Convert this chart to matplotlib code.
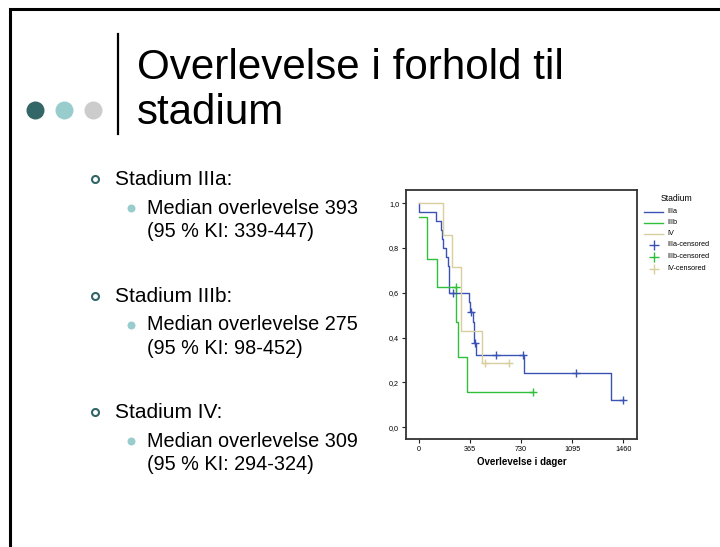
import matplotlib
matplotlib.use('Agg')
import matplotlib.pyplot as plt
from matplotlib.lines import Line2D

W, H = 720, 547
plt.rcParams['font.family'] = ['Liberation Sans', 'DejaVu Sans']

# ---------------- data ----------------
title_lines = ["Overlevelse i forhold til", "stadium"]
groups = ["Stadium IIIa:", "Stadium IIIb:", "Stadium IV:"]
medians = ["Median overlevelse 393", "Median overlevelse 275", "Median overlevelse 309"]
cis = ["(95 % KI: 339-447)", "(95 % KI: 98-452)", "(95 % KI: 294-324)"]

series_names = ["IIIa", "IIIb", "IV"]
legend_title = "Stadium"

iiia_t = [0, 0, 125, 158, 166, 172, 195, 211, 214, 216, 219, 357, 364, 387, 393, 398, 411, 753, 1369]
iiia_s = [1.0, 0.96, 0.92, 0.88, 0.84, 0.80, 0.76, 0.72, 0.68, 0.64, 0.60, 0.557, 0.514, 0.468, 0.421, 0.374, 0.321, 0.241, 0.120]
iiia_cens_t = [242, 370, 403, 551, 742, 1122, 1457]
iiia_cens_s = [0.60, 0.514, 0.374, 0.321, 0.321, 0.241, 0.120]

iiib_t = [0, 57, 134, 270, 284, 342]
iiib_s = [0.9375, 0.75, 0.625, 0.469, 0.3125, 0.156]
iiib_cens_t = [263, 817]
iiib_cens_s = [0.625, 0.156]

iv_t = [0, 171, 240, 299, 303, 449]
iv_s = [1.0, 0.857, 0.714, 0.571, 0.429, 0.286]
iv_cens_t = [475, 646]
iv_cens_s = [0.286, 0.286]

xticks = [0, 365, 730, 1095, 1460]
yticks = [0.0, 0.2, 0.4, 0.6, 0.8, 1.0]
ytick_labels = ["0,0", "0,2", "0,4", "0,6", "0,8", "1,0"]
xlabel = "Overlevelse i dager"

colors = ["#3a52b4", "#2fbf3a", "#d8cf9e"]

# ---------------- helpers ----------------
def fx(x):
    return x / W

def fy(y):
    return 1 - y / H

fig = plt.figure(figsize=(7.2, 5.47), dpi=100)
fig.patch.set_facecolor('white')

# slide border
fig.add_artist(Line2D([fx(10), fx(10), fx(720)], [fy(547), fy(9), fy(9)],
                      color='black', lw=2.2, solid_joinstyle='miter'))

# dots
for xc, c in zip([35, 64, 93], ['#336666', '#99cccc', '#cccccc']):
    fig.add_artist(Line2D([fx(xc)], [fy(110)], marker='o', markersize=18 * 0.72,
                          color=c, markeredgewidth=0))

# vertical bar
fig.add_artist(Line2D([fx(118), fx(118)], [fy(34), fy(134)], color='black', lw=1.6))

# title
fig.text(fx(137), fy(79), title_lines[0], fontsize=30.3, va='baseline', ha='left', color='black')
fig.text(fx(137), fy(124), title_lines[1], fontsize=30.3, va='baseline', ha='left', color='black')

# bullets
for i in range(3):
    off = 116.5 * i
    yb = 185 + off
    fig.add_artist(Line2D([fx(95)], [fy(yb - 6)], marker='o', markersize=7 * 0.72,
                          markerfacecolor='white', markeredgecolor='#336666', markeredgewidth=1.5))
    fig.text(fx(115), fy(yb), groups[i], fontsize=15, va='baseline', ha='left')
    ym = 214 + off
    fig.add_artist(Line2D([fx(131)], [fy(ym - 6)], marker='o', markersize=8 * 0.72,
                          color='#99cccc', markeredgewidth=0))
    fig.text(fx(147), fy(ym), medians[i], fontsize=14.3, va='baseline', ha='left')
    fig.text(fx(147), fy(ym + 23), cis[i], fontsize=14.3, va='baseline', ha='left')

# ---------------- KM chart ----------------
ax = fig.add_axes([fx(406), fy(439.3), (636.7 - 406) / W, (439.3 - 190) / H])
xlo, xhi = -90, 1555
ylo, yhi = -0.054, 1.059
ax.set_xlim(xlo, xhi)
ax.set_ylim(ylo, yhi)

all_series = [(iiia_t, iiia_s, iiia_cens_t, iiia_cens_s),
              (iiib_t, iiib_s, iiib_cens_t, iiib_cens_s),
              (iv_t, iv_s, iv_cens_t, iv_cens_s)]
for (t, s, ct, cs), c in zip(all_series, colors):
    xs = list(t) + [max(ct)]
    ys = list(s) + [s[-1]]
    ax.step(xs, ys, where='post', color=c, lw=1.0)
for (t, s, ct, cs), c in zip(all_series, colors):
    ax.plot(ct, cs, linestyle='none', marker='+', markersize=6, markeredgewidth=1.0, color=c)

ax.set_xticks(xticks)
ax.set_xticklabels([str(v) for v in xticks])
ax.set_yticks(yticks)
ax.set_yticklabels(ytick_labels)
ax.tick_params(axis='both', direction='out', length=3, width=0.8, labelsize=5.2, pad=2, colors='#222222')
ax.tick_params(axis='both', labelcolor='black')
for sp in ax.spines.values():
    sp.set_linewidth(1.3)
    sp.set_color('#333333')
ax.set_xlabel(xlabel, fontsize=7, fontweight='bold', labelpad=3)

# manual legend
fig.text(fx(677), fy(198.5), legend_title, fontsize=6.2, ha='center', va='center')
rows = [211.7, 222.5, 233.5, 245, 256.7, 268.5]
labels = series_names + [n + "-censored" for n in series_names]
for j, lab in enumerate(labels):
    c = colors[j % 3]
    y = rows[j]
    if j < 3:
        fig.add_artist(Line2D([fx(644), fx(663)], [fy(y), fy(y)], color=c, lw=1.0))
    else:
        fig.add_artist(Line2D([fx(653.5)], [fy(y)], marker='+', markersize=7,
                              markeredgewidth=1.0, color=c, linestyle='none'))
    fig.text(fx(667), fy(y), lab, fontsize=5.2, ha='left', va='center')

fig.savefig('out.png', dpi=100, facecolor='white')
